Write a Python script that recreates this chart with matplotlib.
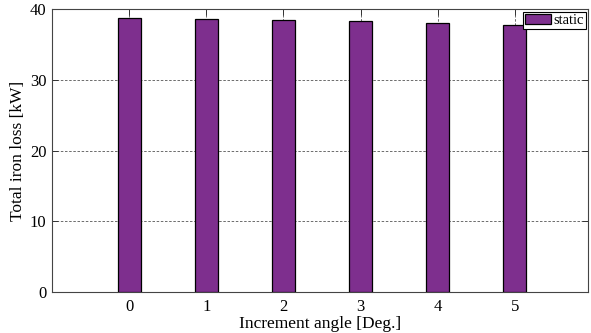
import numpy as np
import matplotlib
matplotlib.use('Agg')
import matplotlib.pyplot as plt

plt.rcParams['font.family'] = ['Liberation Serif', 'DejaVu Serif']

# increment angle vs total iron loss
angles = [0, 1, 2, 3, 4, 5]
iron_loss = [38.73, 38.63, 38.49, 38.30, 38.02, 37.74]

fig = plt.figure(figsize=(5.91, 3.33), dpi=100)
ax = fig.add_axes([0.088, 0.123, 0.907, 0.849])

ax.bar(angles, iron_loss, width=0.3, color='#7E2F8E', edgecolor='black',
       linewidth=0.9, label='static', zorder=3)

ax.set_xlim(-1, 5.95)
ax.set_ylim(0, 40)
ax.set_xticks(angles)
ax.set_yticks([0, 10, 20, 30, 40])
ax.grid(True, linestyle=(0, (3, 2)), color='#555555', linewidth=0.6, zorder=0)
ax.set_axisbelow(True)
ax.tick_params(direction='in', top=True, right=True, labelsize=12,
               length=4, width=0.7, colors='#333333', labelcolor='black')
ax.tick_params(axis='x', pad=5)
ax.tick_params(axis='y', pad=4)
for s in ax.spines.values():
    s.set_color('#444444')
    s.set_linewidth(0.8)

ax.set_xlabel('Increment angle [Deg.]', fontsize=12.5, labelpad=0.5)
ax.set_ylabel('Total iron loss [kW]', fontsize=12.5, labelpad=3)

leg = ax.legend(loc='upper right', fontsize=10.5, fancybox=False, framealpha=1,
                edgecolor='black', borderpad=0.15, handlelength=1.8,
                handletextpad=0.15, borderaxespad=0.15)
leg.get_frame().set_linewidth(0.8)

fig.savefig('out.png', dpi=100)
